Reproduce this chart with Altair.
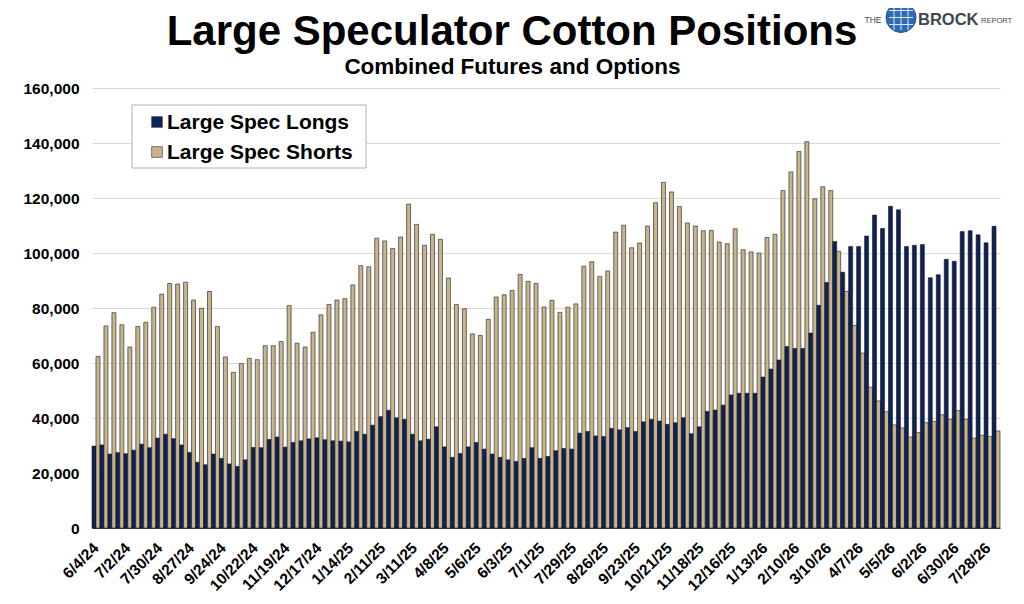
import altair as alt
import pandas as pd

# ---------------- data (thousands of contracts) ----------------
start_date = "2024-06-04"
n_weeks = 114

longs_k = [
    29.8, 30.2, 26.9, 27.4, 27.0, 28.3, 30.5, 29.2, 32.7, 34.1,
    32.5, 30.2, 27.5, 23.9, 23.0, 26.9, 25.3, 23.3, 22.4, 24.8,
    29.3, 29.2, 32.2, 33.1, 29.4, 31.1, 31.7, 32.4, 32.8, 32.1,
    31.7, 31.6, 31.3, 35.1, 34.1, 37.4, 40.5, 42.8, 40.1, 39.5,
    34.1, 31.7, 32.3, 36.8, 29.5, 25.7, 27.1, 29.5, 31.1, 28.7,
    26.9, 25.7, 24.8, 24.2, 25.3, 29.2, 25.3, 26.0, 28.1, 28.9,
    28.7, 34.5, 35.1, 33.5, 33.3, 36.2, 35.7, 36.5, 35.1, 38.6,
    39.5, 38.9, 37.7, 38.3, 40.1, 34.3, 36.8, 42.4, 42.9, 44.7,
    48.4, 49.0, 49.0, 49.0, 54.9, 57.8, 61.1, 66.0, 65.3, 65.3,
    70.9, 81.0, 89.3, 104.2, 93.0, 102.4, 102.4, 106.2, 113.8, 108.9,
    117.0, 115.7, 102.4, 102.8, 103.1, 91.0, 92.1, 97.7, 97.0, 107.8,
    108.1, 106.6, 103.7, 109.7,
]

shorts_k = [
    62.4, 73.5, 78.3, 73.9, 65.8, 73.3, 74.8, 80.3, 85.0, 88.9,
    88.7, 89.4, 82.9, 79.9, 86.0, 73.3, 62.2, 56.6, 59.8, 61.7,
    61.2, 66.3, 66.3, 67.8, 80.9, 67.2, 65.8, 71.2, 77.5, 81.3,
    82.9, 83.4, 88.4, 95.4, 95.0, 105.4, 104.4, 101.6, 105.8, 117.8,
    110.4, 102.8, 106.8, 105.0, 90.9, 81.3, 79.7, 70.6, 70.0, 75.9,
    84.0, 84.8, 86.4, 92.2, 89.7, 88.9, 80.4, 82.8, 78.4, 80.3,
    81.5, 95.2, 96.8, 91.5, 93.5, 107.6, 110.1, 101.9, 103.6, 109.8,
    118.3, 125.7, 122.2, 116.9, 110.9, 109.8, 108.1, 108.2, 104.0, 103.4,
    108.8, 101.2, 100.4, 100.0, 105.6, 106.8, 122.7, 129.5, 136.9, 140.5,
    119.7, 124.1, 122.7, 100.6, 86.0, 73.6, 63.6, 51.2, 46.2, 42.3,
    37.5, 36.4, 33.1, 34.7, 38.3, 38.7, 41.2, 39.5, 42.7, 39.5,
    32.7, 33.7, 33.3, 35.3,
]

series_names = ["Large Spec Longs", "Large Spec Shorts"]
series_colors = ["#0E2257", "#C9B48C"]
y_ticks = [0, 20000, 40000, 60000, 80000, 100000, 120000, 140000, 160000]
title_text = "Large Speculator Cotton Positions"
subtitle_text = "Combined Futures and Options"

dates = pd.date_range(start_date, periods=n_weeks, freq="7D")
weeks = [f"{d.month}/{d.day}/{d.strftime('%y')}" for d in dates]
tick_labels = weeks[::4]

rows = []
for i, w in enumerate(weeks):
    rows.append({"week": w, "series": series_names[0], "value": longs_k[i] * 1000})
    rows.append({"week": w, "series": series_names[1], "value": shorts_k[i] * 1000})
df = pd.DataFrame(rows)

FONT = "Liberation Sans"
OX, OY = 92, 88  # plot origin on the page

bars = alt.Chart(df).mark_bar(stroke="#1a1a1a", strokeWidth=0.6).encode(
    x=alt.X(
        "week:N",
        sort=weeks,
        scale=alt.Scale(domain=weeks, paddingInner=0, paddingOuter=0),
        axis=alt.Axis(
            values=tick_labels, title=None, labelAngle=-45, labelAlign="right",
            labelBaseline="middle", labelFont=FONT, labelFontSize=15.5,
            labelFontWeight="bold", labelColor="#000", labelPadding=17,
            ticks=False, domainColor="#444", domainWidth=1.2, grid=False,
            labelOverlap=False,
        ),
    ),
    xOffset=alt.XOffset("series:N", sort=series_names,
                        scale=alt.Scale(domain=series_names, paddingInner=0, paddingOuter=0)),
    y=alt.Y(
        "value:Q",
        scale=alt.Scale(domain=[0, 160000], nice=False),
        axis=alt.Axis(
            values=y_ticks, format=",.0f", title=None, labelFont=FONT,
            labelFontSize=15.5, labelFontWeight="bold", labelColor="#000",
            labelPadding=13, ticks=False, domain=False, grid=True,
            gridColor="#d9d9d9", gridWidth=1,
        ),
    ),
    color=alt.Color("series:N", scale=alt.Scale(domain=series_names, range=series_colors), legend=None),
    order=alt.Order("series:N"),
)

one = pd.DataFrame({"k": [0]})

def txt(text, x, y, size, weight="bold", align="center", color="#000"):
    return alt.Chart(pd.DataFrame({"t": [text]})).mark_text(
        font=FONT, fontSize=size, fontWeight=weight, align=align,
        baseline="alphabetic", color=color,
    ).encode(text="t:N", x=alt.value(x - OX), y=alt.value(y - OY))

layers = [bars]

# legend (drawn by hand)
layers.append(alt.Chart(one).mark_rect(fill="white", stroke="#b0b0b0", strokeWidth=1).encode(
    x=alt.value(132 - OX), x2=alt.value(366 - OX), y=alt.value(105 - OY), y2=alt.value(168 - OY)))
for j, (name, col) in enumerate(zip(series_names, series_colors)):
    cy = 122 + 30 * j
    layers.append(alt.Chart(one).mark_square(size=115, fill=col, opacity=1,
                                             stroke="#333", strokeWidth=0.6).encode(
        x=alt.value(157 - OX), y=alt.value(cy - OY)))
    layers.append(alt.Chart(pd.DataFrame({"t": [name]})).mark_text(
        font=FONT, fontSize=21, fontWeight="bold", align="left", baseline="middle", color="#000"
    ).encode(text="t:N", x=alt.value(167 - OX), y=alt.value(cy + 1 - OY)))

# titles
layers.append(txt(title_text, 512, 45, 42))
layers.append(txt(subtitle_text, 512.5, 74, 22.5))

# logo
layers.append(txt("THE", 873, 23, 8.5, weight="normal", color="#3d4752"))
layers.append(alt.Chart(one).mark_circle(size=900, fill="#2e6bb3", opacity=1,
                                         stroke="#1d4e8a", strokeWidth=1).encode(
    x=alt.value(901 - OX), y=alt.value(17.5 - OY)))
for dx in (-7, 0, 7):
    layers.append(alt.Chart(one).mark_rule(color="#dfe9f5", strokeWidth=1).encode(
        x=alt.value(901 + dx - OX), y=alt.value(5 - OY), y2=alt.value(30 - OY)))
for dy in (-7, 0, 7):
    layers.append(alt.Chart(one).mark_rule(color="#dfe9f5", strokeWidth=1).encode(
        y=alt.value(17.5 + dy - OY), x=alt.value(889 - OX), x2=alt.value(913 - OX)))
layers.append(txt("BROCK", 918, 25, 16.5, align="left", color="#3d4752"))
layers.append(txt("REPORT", 981, 23, 7.5, weight="normal", align="left", color="#3d4752"))

chart = alt.layer(*layers).properties(
    width=908, height=440,
    autosize=alt.AutoSizeParams(type="none"),
    padding={"left": 84, "top": 80, "right": 16, "bottom": 68},
    background="white",
).configure_view(stroke=None)

chart.save("out.html", embed_options={"renderer": "svg", "actions": False})
